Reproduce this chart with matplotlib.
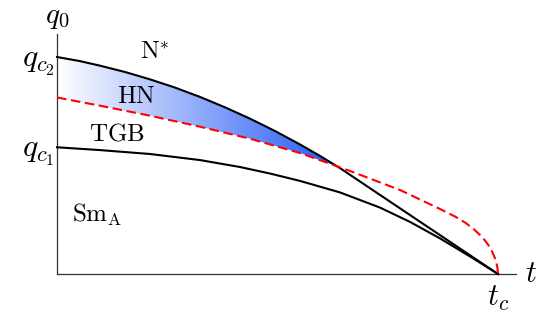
import numpy as np
import matplotlib
matplotlib.use("Agg")
import matplotlib.pyplot as plt
from matplotlib.colors import LinearSegmentedColormap
from matplotlib.patches import Polygon

plt.rcParams['mathtext.fontset'] = 'cm'
plt.rcParams['font.family'] = ['DejaVu Serif']

# ---- data (t normalised so that t_c = 1, q normalised so that q_c2 = 1) ----
t_upper = [0.0, 0.0522, 0.0975, 0.1542, 0.2109, 0.2676, 0.3243, 0.3810,
           0.4376, 0.4943, 0.5510, 0.5964, 0.6417, 1.0]
q_upper = [1.000, 0.981, 0.960, 0.931, 0.897, 0.859, 0.816, 0.768,
           0.716, 0.659, 0.597, 0.544, 0.488, 0.0]

t_lower = [0.0, 0.0975, 0.2109, 0.3243, 0.4150, 0.4830, 0.5510, 0.6417,
           0.7324, 0.8005, 0.8685, 0.9365, 1.0]
q_lower = [0.584, 0.571, 0.553, 0.525, 0.493, 0.463, 0.429, 0.376,
           0.306, 0.240, 0.164, 0.081, 0.0]

t_red = [0.0, 0.0975, 0.2109, 0.3243, 0.4376, 0.5510, 0.6644, 0.7778, 0.8685,
         0.9025, 0.9252, 0.9433, 0.9592, 0.9705, 0.9796, 0.9864, 0.9921,
         0.9961, 0.9986, 1.0]
q_red = [0.8134, 0.7756, 0.7295, 0.6788, 0.6235, 0.5576, 0.4747, 0.3871, 0.2995,
         0.2650, 0.2373, 0.2097, 0.1797, 0.1544, 0.1290, 0.1037, 0.0783,
         0.0530, 0.0300, 0.0]

q_c1 = q_lower[0]
q_c2 = q_upper[0]
t_c = 1.0

tick_q = [q_c1, q_c2]
tick_q_labels = [r'$q_{c_1}$', r'$q_{c_2}$']
tick_t = [t_c]
tick_t_labels = [r'$t_c$']

phase_labels = [r'$\mathrm{N}^{*}$', r'$\mathrm{HN}$', r'$\mathrm{TGB}$', r'$\mathrm{Sm}_{\mathrm{A}}$']
phase_pos = [(0.222, 1.023), (0.179, 0.820), (0.136, 0.645), (0.034, 0.272)]
phase_ha = ['center', 'center', 'center', 'left']

# ---- figure ----
fig = plt.figure(figsize=(5.37, 3.2), dpi=100)
ax = fig.add_axes([0, 0, 1, 1])
XL = (-57 / 441, 480 / 441)
YL = (-46 / 217, 274 / 217)
ax.patch.set_alpha(0)

for s in ['top', 'right']:
    ax.spines[s].set_visible(False)
ax.spines['left'].set_position(('data', 0))
ax.spines['bottom'].set_position(('data', 0))
ax.spines['left'].set_bounds(0, 240 / 217)
ax.spines['bottom'].set_bounds(0, 459 / 441)
for s in ['left', 'bottom']:
    ax.spines[s].set_color('#333333')
    ax.spines[s].set_linewidth(0.9)

ax.set_yticks(tick_q, labels=tick_q_labels)
ax.set_xticks(tick_t, labels=tick_t_labels)
ax.tick_params(axis='y', length=0, pad=1.5, labelsize=23)
ax.tick_params(axis='x', length=0, pad=6, labelsize=22)

# ---- gradient filled HN region between upper curve and red curve ----
grid = np.linspace(0, 1, 4001)
diff = np.interp(grid, t_upper, q_upper) - np.interp(grid, t_red, q_red)
idx = np.where((grid > 0.3) & (diff <= 0))[0][0]
t_x = grid[idx]
q_x = np.interp(t_x, t_upper, q_upper)

tu = np.array(t_upper); qu = np.array(q_upper)
tr = np.array(t_red); qr = np.array(q_red)
top_pts = list(zip(tu[tu < t_x], qu[tu < t_x])) + [(t_x, q_x)]
bot_pts = list(zip(tr[tr < t_x], qr[tr < t_x]))[::-1]
poly = Polygon(top_pts + bot_pts, closed=True, facecolor='none', edgecolor='none')
ax.add_patch(poly)

cmap = LinearSegmentedColormap.from_list('wb', ['#ffffff', '#2459f5'])
grad = np.linspace(0, 1, 256).reshape(1, -1)
im = ax.imshow(grad, cmap=cmap, aspect='auto', interpolation='bilinear',
               extent=[0, t_x, min(q_red), max(q_upper)], zorder=1)
im.set_clip_path(poly)
ax.set_xlim(*XL)
ax.set_ylim(*YL)

# ---- curves ----
ax.plot(t_lower, q_lower, color='black', lw=1.5, zorder=3, solid_joinstyle='round')
ax.plot(t_upper, q_upper, color='black', lw=1.5, zorder=3, solid_joinstyle='round')
ax.plot(t_red, q_red, color='#ff0000', lw=1.5, dashes=(4.6, 2.2), zorder=4)

# ---- labels ----
for lab, (x, y), ha in zip(phase_labels, phase_pos, phase_ha):
    ax.text(x, y, lab, fontsize=18, ha=ha, va='center', zorder=5)

ax.text(0, 1.118, r'$q_0$', fontsize=21, ha='center', va='bottom')
ax.text(1.061, 0, r'$t$', fontsize=22, ha='left', va='center')

fig.savefig('out.png', dpi=100)
